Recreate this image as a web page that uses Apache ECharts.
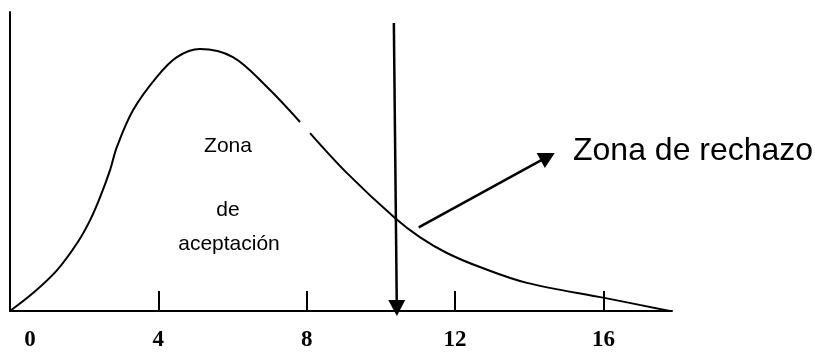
<!DOCTYPE html>
<html lang="es">
  <head>
    <meta charset="UTF-8" />
    <title>Zona de aceptación / rechazo</title>
    <script src="https://cdn.jsdelivr.net/npm/echarts@6/dist/echarts.min.js"></script>
    <style>
      html, body { margin: 0; padding: 0; background: #fff; }
      #chart { width: 815px; height: 352px; }
    </style>
  </head>
  <body>
    <div id="chart"></div>
  </body>
</html>
<script>
  // curva (x en unidades del eje, y en % de la altura)
  const curveX = [0, 0.62, 1.27, 1.83, 2.16, 2.43, 2.7, 2.88, 3.32, 3.96, 4.5, 5.12, 6.01, 6.93, 7.82, 7.95, 8.09, 9.08, 10.38, 11.05, 11.78, 12.67, 13.94, 16.06, 17.79];
  const curveY = [0, 6.0, 13.7, 23.1, 30.4, 38.1, 47.2, 54.8, 67.2, 78.3, 84.9, 87.6, 84.9, 74.9, 63.2, null, 59.5, 46.2, 31.1, 24.7, 19.4, 14.7, 9.4, 4.3, 0];
  const tickValues = [4, 8, 12, 16];
  const tickLabels = [0, 4, 8, 12, 16];
  // flechas: [x, y] inicio y fin
  const criticalArrow = [[10.35, 96.3], [10.43, 1.0]];
  const pointerArrow = [[11.02, 28.0], [14.5, 51.6]];

  const chart = echarts.init(document.getElementById("chart"));
  const arrowLine = (pts) => [
    { coord: pts[0], symbol: "none" },
    { coord: pts[1], symbol: "triangle", symbolSize: [17, 16] },
  ];

  const option = {
    animation: false,
    grid: { left: 10, right: 143, top: 12, bottom: 41 },
    xAxis: {
      type: "value",
      min: 0,
      max: 17.85,
      splitLine: { show: false },
      axisLine: { lineStyle: { color: "#000", width: 2 } },
      axisTick: {
        inside: true,
        length: 20,
        customValues: tickValues,
        lineStyle: { color: "#000", width: 2 },
      },
      axisLabel: {
        customValues: tickLabels,
        margin: 18,
        color: "#000",
        fontFamily: "Liberation Serif",
        fontWeight: "bold",
        fontSize: 23,
        formatter: (v) => (v === 0 ? "{z|0}" : String(v)),
        rich: {
          z: {
            padding: [0, 0, 0, 40],
            fontFamily: "Liberation Serif",
            fontWeight: "bold",
            fontSize: 23,
            color: "#000",
          },
        },
      },
    },
    yAxis: {
      type: "value",
      min: 0,
      max: 100,
      splitLine: { show: false },
      axisTick: { show: false },
      axisLabel: { show: false },
      axisLine: { show: true, lineStyle: { color: "#000", width: 2 } },
    },
    series: [
      {
        type: "line",
        data: curveX.map((x, i) => [x, curveY[i]]),
        smooth: 0.35,
        connectNulls: false,
        showSymbol: false,
        lineStyle: { color: "#000", width: 2 },
        markLine: {
          silent: true,
          animation: false,
          label: { show: false },
          lineStyle: { color: "#000", width: 2.5, type: "solid" },
          data: [arrowLine(criticalArrow), arrowLine(pointerArrow)],
        },
      },
    ],
    graphic: [
      {
        type: "text",
        left: 573,
        top: 135,
        style: { text: "Zona de rechazo", fill: "#000", font: "32px 'Liberation Sans', Arial" },
      },
      {
        type: "text",
        x: 228,
        y: 146,
        style: { text: "Zona", fill: "#000", font: "21px 'Liberation Sans', Arial", align: "center", verticalAlign: "middle" },
      },
      {
        type: "text",
        x: 228,
        y: 210,
        style: { text: "de", fill: "#000", font: "21px 'Liberation Sans', Arial", align: "center", verticalAlign: "middle" },
      },
      {
        type: "text",
        x: 229,
        y: 244,
        style: { text: "aceptación", fill: "#000", font: "21px 'Liberation Sans', Arial", align: "center", verticalAlign: "middle" },
      },
    ],
  };
  chart.setOption(option);
</script>
